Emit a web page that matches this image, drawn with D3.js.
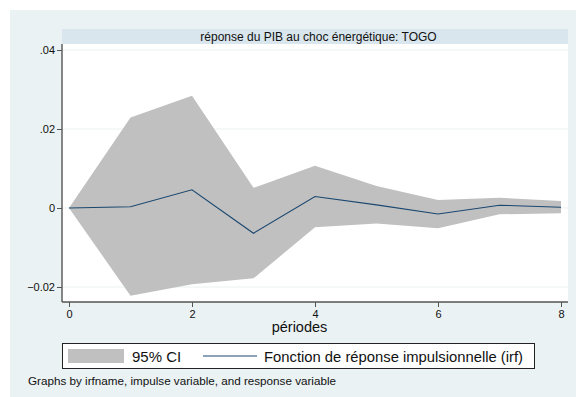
<!DOCTYPE html>
<html>
<head>
<meta charset="utf-8">
<script src="https://cdn.jsdelivr.net/npm/d3@7"></script>
<style>
  html, body { margin: 0; padding: 0; background: #ffffff; }
  svg { display: block; font-family: "Liberation Sans", Arial, Helvetica, sans-serif; }
</style>
</head>
<body>
<svg id="chart" width="576" height="397"></svg>
<script>
const periods = [0, 1, 2, 3, 4, 5, 6, 7, 8];
const irf     = [0, 0.0003, 0.0046, -0.0064, 0.0029, 0.0008, -0.0015, 0.0007, 0.0002];
const ciUpper = [0, 0.0229, 0.0284, 0.0051, 0.0107, 0.0056, 0.0020, 0.0026, 0.0018];
const ciLower = [0, -0.0222, -0.0193, -0.0178, -0.0049, -0.0039, -0.0051, -0.0016, -0.0013];
const yTicks = [-0.02, 0, 0.02, 0.04];
const xTicks = [0, 2, 4, 6, 8];
const titleText = "réponse du PIB au choc énergétique: TOGO";
const xLabel = "périodes";
const legendLabels = ["95% CI", "Fonction de réponse impulsionnelle (irf)"];
const noteText = "Graphs by irfname, impulse variable, and response variable";

const svg = d3.select("#chart");
const bg = "#eaf2f3";
const plot = { left: 62, right: 568, top: 44, bottom: 302 };

svg.append("rect").attr("x", 10).attr("y", 10).attr("width", 566).attr("height", 387).attr("fill", bg);

// title strip
svg.append("rect").attr("x", plot.left).attr("y", 29).attr("width", plot.right - plot.left).attr("height", 15).attr("fill", "#d9e6ed");
svg.append("text").attr("x", 318.5).attr("y", 41).attr("text-anchor", "middle")
  .attr("font-size", 12).attr("fill", "#111").text(titleText);

// plot area
svg.append("rect").attr("x", plot.left).attr("y", plot.top).attr("width", plot.right - plot.left).attr("height", plot.bottom - plot.top).attr("fill", "#ffffff");

const x = d3.scaleLinear().domain([0, 8]).range([69, 561]);
const y = d3.scaleLinear().domain([-0.02, 0.04]).range([287, 50]);

// gridlines
svg.append("g").selectAll("line").data(yTicks).join("line")
  .attr("x1", plot.left).attr("x2", plot.right)
  .attr("y1", d => y(d)).attr("y2", d => y(d))
  .attr("stroke", bg).attr("stroke-width", 1.2);

// CI area
const area = d3.area().x((d, i) => x(periods[i])).y0((d, i) => y(ciLower[i])).y1((d, i) => y(ciUpper[i]));
svg.append("path").datum(periods).attr("d", area).attr("fill", "#c0c0c0");

// irf line
const line = d3.line().x((d, i) => x(periods[i])).y((d, i) => y(irf[i]));
svg.append("path").datum(periods).attr("d", line).attr("fill", "none").attr("stroke", "#1a476f").attr("stroke-width", 1.1);

// axes
const yAxis = d3.axisLeft(y).tickValues(yTicks).tickSize(5).tickPadding(2)
  .tickFormat(d => d === 0 ? "0" : d3.format(".2f")(d).replace(/^(-?)0\./, "$1."));
const gy = svg.append("g").attr("transform", `translate(${plot.left},0)`).call(yAxis);
gy.select(".domain").attr("d", `M0,${plot.top}V${plot.bottom}`).attr("stroke", "#555").attr("stroke-width", 1.4);

const xAxis = d3.axisBottom(x).tickValues(xTicks).tickSize(5).tickPadding(3).tickFormat(d3.format("d"));
const gx = svg.append("g").attr("transform", `translate(0,${plot.bottom})`).call(xAxis);
gx.select(".domain").attr("d", `M${plot.left},0H${plot.right}`).attr("stroke", "#555").attr("stroke-width", 1.4);

[gx, gy].forEach(g => {
  g.selectAll(".tick line").attr("stroke", "#555");
  g.selectAll(".tick text").attr("font-size", 11).attr("fill", "#111").attr("font-family", "Liberation Sans, Arial, sans-serif");
});

// x label
svg.append("text").attr("x", 299.5).attr("y", 332).attr("text-anchor", "middle").attr("font-size", 14.5).attr("fill", "#111").text(xLabel);

// legend
const lg = svg.append("g");
lg.append("rect").attr("x", 62.5).attr("y", 343.5).attr("width", 472).attr("height", 25).attr("fill", "#fff").attr("stroke", "#222").attr("stroke-width", 1);
lg.append("rect").attr("x", 68).attr("y", 349).attr("width", 56).attr("height", 14).attr("fill", "#c0c0c0");
lg.append("text").attr("x", 132).attr("y", 361.5).attr("font-size", 15).attr("fill", "#111").text(legendLabels[0]);
lg.append("line").attr("x1", 203).attr("x2", 257).attr("y1", 356).attr("y2", 356).attr("stroke", "#1a476f").attr("stroke-width", 1.1);
lg.append("text").attr("x", 264).attr("y", 361.5).attr("font-size", 15).attr("fill", "#111")
  .attr("textLength", 259).attr("lengthAdjust", "spacingAndGlyphs").text(legendLabels[1]);

// note
svg.append("text").attr("x", 28).attr("y", 385).attr("font-size", 11).attr("fill", "#111")
  .attr("textLength", 308).attr("lengthAdjust", "spacingAndGlyphs").text(noteText);
</script>
</body>
</html>
